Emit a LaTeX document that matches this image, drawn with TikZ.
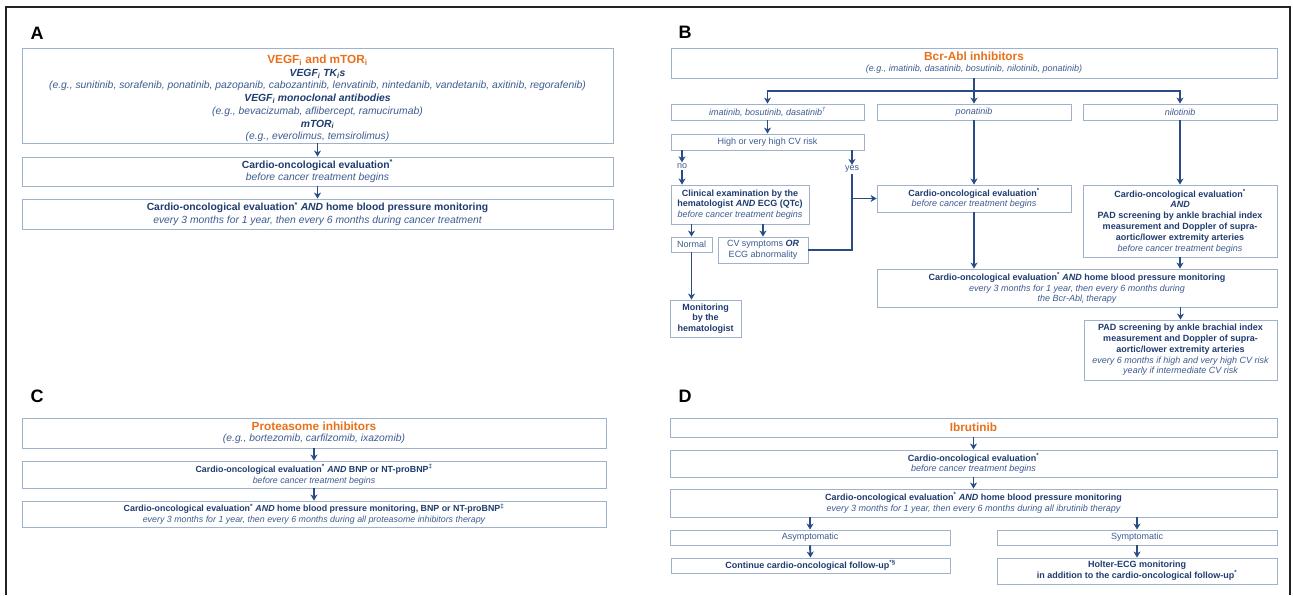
\documentclass[tikz,border=0pt]{standalone}
\usepackage{fontspec}
\setmainfont{Liberation Sans}
\usetikzlibrary{arrows.meta}
\definecolor{navy}{HTML}{1F3C70}
\definecolor{ital}{HTML}{3D5C92}
\definecolor{boxc}{HTML}{9EB2CE}
\definecolor{orng}{HTML}{E8711C}
\definecolor{arrc}{HTML}{2A4C85}
\definecolor{framec}{HTML}{222222}
\newcommand{\fsz}[2]{\fontsize{#1}{#2}\selectfont}
\newcommand{\ttl}[1]{{\fsz{11.8}{13.5}\bfseries\color{orng}#1}}
\newcommand{\itl}[1]{{\itshape\color{ital}#1}}
\newcommand{\rgl}[1]{{\color{ital}#1}}
\newcommand{\bxi}[1]{{\bfseries\itshape #1}}
\newcommand{\sast}{\textsuperscript{*}}
\begin{document}
\begin{tikzpicture}[x=1pt,y=-1pt,
  box/.style={draw=boxc, line width=0.9pt, inner sep=0pt, align=center, text=navy, font=\fsz{9}{10.8}},
  sz/.style 2 args={minimum width=#1, minimum height=#2},
  conn/.style={draw=arrc, line width=1.9pt},
  arr/.style={draw=arrc, line width=1.9pt, -{Stealth[length=6pt,width=7pt,inset=1.8pt]}},
  lbl/.style={inner sep=1pt, text=ital, font=\fsz{9}{10.8}},
  plabel/.style={inner sep=0pt, font=\fsz{18}{20}\bfseries, text=black},
  frame/.style={draw=framec, line width=1.8pt}]
\useasboundingbox (0,0) rectangle (1293,595);
\fill[white] (0,0) rectangle (1293,595);
\draw[frame] (6,595) -- (6,7) -- (1290,7) -- (1290,595);

% ---------------- Panel A ----------------
\node[plabel] (la) at (37,33) {A};
\node[box, sz={591}{95}, font=\fsz{10.35}{12.7}] (a1) at (317.5,95.5) {%
\rule{0pt}{14.5pt}\ttl{VEGF\textsubscript{i} and mTOR\textsubscript{i}}\\
\bxi{VEGF\textsubscript{i} TK\textsubscript{i}s}\\
\itl{(e.g., sunitinib, sorafenib, ponatinib, pazopanib, cabozantinib, lenvatinib, nintedanib, vandetanib, axitinib, regorafenib)}\\
\bxi{VEGF\textsubscript{i} monoclonal antibodies}\\
\itl{(e.g., bevacizumab, aflibercept, ramucirumab)}\\
\bxi{mTOR\textsubscript{i}}\\
\itl{(e.g., everolimus, temsirolimus)}};
\node[box, sz={591}{29}, font=\fsz{10.35}{12.5}] (a2) at (317.5,171.5) {%
\textbf{Cardio-oncological evaluation\sast}\\
\itl{before cancer treatment begins}};
\node[box, sz={591}{30}, font=\fsz{10.35}{12.5}] (a3) at (317.5,214) {%
\textbf{Cardio-oncological evaluation\sast{} \textit{AND} home blood pressure monitoring}\\
\itl{every 3 months for 1 year, then every 6 months during cancer treatment}};
\draw[arr] (a1.south) -- (a2.north);
\draw[arr] (a2.south) -- (a3.north);

% ---------------- Panel B ----------------
\node[plabel] (lb) at (685,32) {B};
\node[box, sz={606}{30}] (b1) at (974,63) {%
\ttl{Bcr-Abl inhibitors}\\
\itl{(e.g., imatinib, dasatinib, bosutinib, nilotinib, ponatinib)}};
\node[box, sz={193}{16}] (bl) at (767.5,112) {\itl{imatinib, bosutinib, dasatinib\textsuperscript{†}}};
\node[box, sz={194}{16}] (bm) at (974,112) {\itl{ponatinib}};
\node[box, sz={194}{16}] (br) at (1180,112) {\itl{nilotinib}};
\coordinate (bj) at (974,91);
\draw[conn] (b1.south) -- (bj);
\draw[arr] (bj) -| (bl.north);
\draw[arr] (bj) -| (br.north);
\draw[arr] (bj) -- (bm.north);

\node[box, sz={193}{16}] (bh) at (767.5,142) {\rgl{High or very high CV risk}};
\draw[arr] (bl.south) -- (bh.north);

\node[box, sz={138}{39}] (bclin) at (740,204.5) {%
\textbf{Clinical examination by the}\\
\textbf{hematologist \textit{AND} ECG (QTc)}\\
\itl{before cancer treatment begins}};
\node[lbl] (no) at (682,166) {no};
\node[lbl] (yes) at (852,169.5) {yes};
\draw[arr] (bh.south -| no) -- (no.north);
\draw[arr] (no.south) -- (no |- bclin.north);
\draw[arr] (bh.south -| yes) -- (yes.north);

\node[box, sz={41}{15}] (bnorm) at (691.5,244.5) {\rgl{Normal}};
\node[box, sz={90}{26}] (bcv) at (763,250) {%
\rgl{CV symptoms \textcolor{navy}{\bxi{OR}}}\\
\rgl{ECG abnormality}};
\draw[arr] (bclin.south -| bnorm) -- (bnorm.north);
\draw[arr] (bclin.south -| bcv) -- (bcv.north);

\node[box, sz={71}{37}] (bmon) at (705.5,318.5) {%
\textbf{Monitoring}\\
\textbf{by the}\\
\textbf{hematologist}};
\draw[arr] (bnorm.south) -- (bnorm.south |- bmon.north);

\node[box, sz={194}{27}] (bcm) at (974,198.5) {%
\textbf{Cardio-oncological evaluation\sast}\\
\itl{before cancer treatment begins}};
\draw[arr] (bm.south) -- (bcm.north);
\draw[conn] (bcv.east) -| (yes.south);
\draw[arr] (yes |- bcm.west) -- (bcm.west);

\node[box, sz={194}{72}] (bcr) at (1180,221) {%
\textbf{Cardio-oncological evaluation\sast}\\
\bxi{AND}\\
\textbf{PAD screening by ankle brachial index}\\
\textbf{measurement and Doppler of supra-}\\
\textbf{aortic/lower extremity arteries}\\
\itl{before cancer treatment begins}};
\draw[arr] (br.south) -- (bcr.north);

\node[box, sz={400}{38}] (bbig) at (1077,288) {%
\textbf{Cardio-oncological evaluation\sast{} \textit{AND} home blood pressure monitoring}\\
\itl{every 3 months for 1 year, then every 6 months during}\\
\itl{the Bcr-Abl\textsubscript{i} therapy}};
\draw[arr] (bcm.south) -- (bcm.south |- bbig.north);
\draw[arr] (bcr.south) -- (bcr.south |- bbig.north);

\node[box, sz={193}{60}] (bpad) at (1180.5,350) {%
\textbf{PAD screening by ankle brachial index}\\
\textbf{measurement and Doppler of supra-}\\
\textbf{aortic/lower extremity arteries}\\
\itl{every 6 months if high and very high CV risk}\\
\itl{yearly if intermediate CV risk}};
\draw[arr] (bbig.south -| bpad) -- (bpad.north);

% ---------------- Panel C ----------------
\node[plabel] (lc) at (37,396) {C};
\node[box, sz={584}{30}] (c1) at (314,433) {%
\ttl{Proteasome inhibitors}\\
{\fsz{10.3}{12}\itl{(e.g., bortezomib, carfilzomib, ixazomib)}}};
\node[box, sz={584}{27}, font=\fsz{8.85}{10.8}] (c2) at (314,474.5) {%
\textbf{Cardio-oncological evaluation\sast{} \textit{AND} BNP or NT-proBNP\textsuperscript{‡}}\\
\itl{before cancer treatment begins}};
\node[box, sz={584}{26}, font=\fsz{8.85}{10.8}] (c3) at (314,514) {%
\textbf{Cardio-oncological evaluation\sast{} \textit{AND} home blood pressure monitoring, BNP or NT-proBNP\textsuperscript{‡}}\\
\itl{every 3 months for 1 year, then every 6 months during all proteasome inhibitors therapy}};
\draw[arr] (c1.south) -- (c2.north);
\draw[arr] (c2.south) -- (c3.north);

% ---------------- Panel D ----------------
\node[plabel] (ld) at (685,396) {D};
\node[box, sz={607}{19}] (d1) at (973.5,427.5) {\ttl{Ibrutinib}};
\node[box, sz={607}{27}] (d2) at (973.5,463.5) {%
\textbf{Cardio-oncological evaluation\sast}\\
\itl{before cancer treatment begins}};
\node[box, sz={607}{28}] (d3) at (973.5,503) {%
\textbf{Cardio-oncological evaluation\sast{} \textit{AND} home blood pressure monitoring}\\
\itl{every 3 months for 1 year, then every 6 months during all ibrutinib therapy}};
\draw[arr] (d1.south) -- (d2.north);
\draw[arr] (d2.south) -- (d3.north);
\node[box, sz={280}{15}] (dasym) at (810,537.5) {\rgl{Asymptomatic}};
\node[box, sz={280}{15}] (dsym) at (1137,537.5) {\rgl{Symptomatic}};
\draw[arr] (d3.south -| dasym) -- (dasym.north);
\draw[arr] (d3.south -| dsym) -- (dsym.north);
\node[box, sz={279}{15}] (dcont) at (810.5,565.5) {%
\textbf{Continue cardio-oncological follow-up\textsuperscript{*§}}};
\node[box, sz={280}{26}] (dhol) at (1137,571) {%
\textbf{Holter-ECG monitoring}\\
\textbf{in addition to the cardio-oncological follow-up\sast}};
\draw[arr] (dasym.south) -- (dcont.north);
\draw[arr] (dsym.south) -- (dhol.north);
\end{tikzpicture}
\end{document}
